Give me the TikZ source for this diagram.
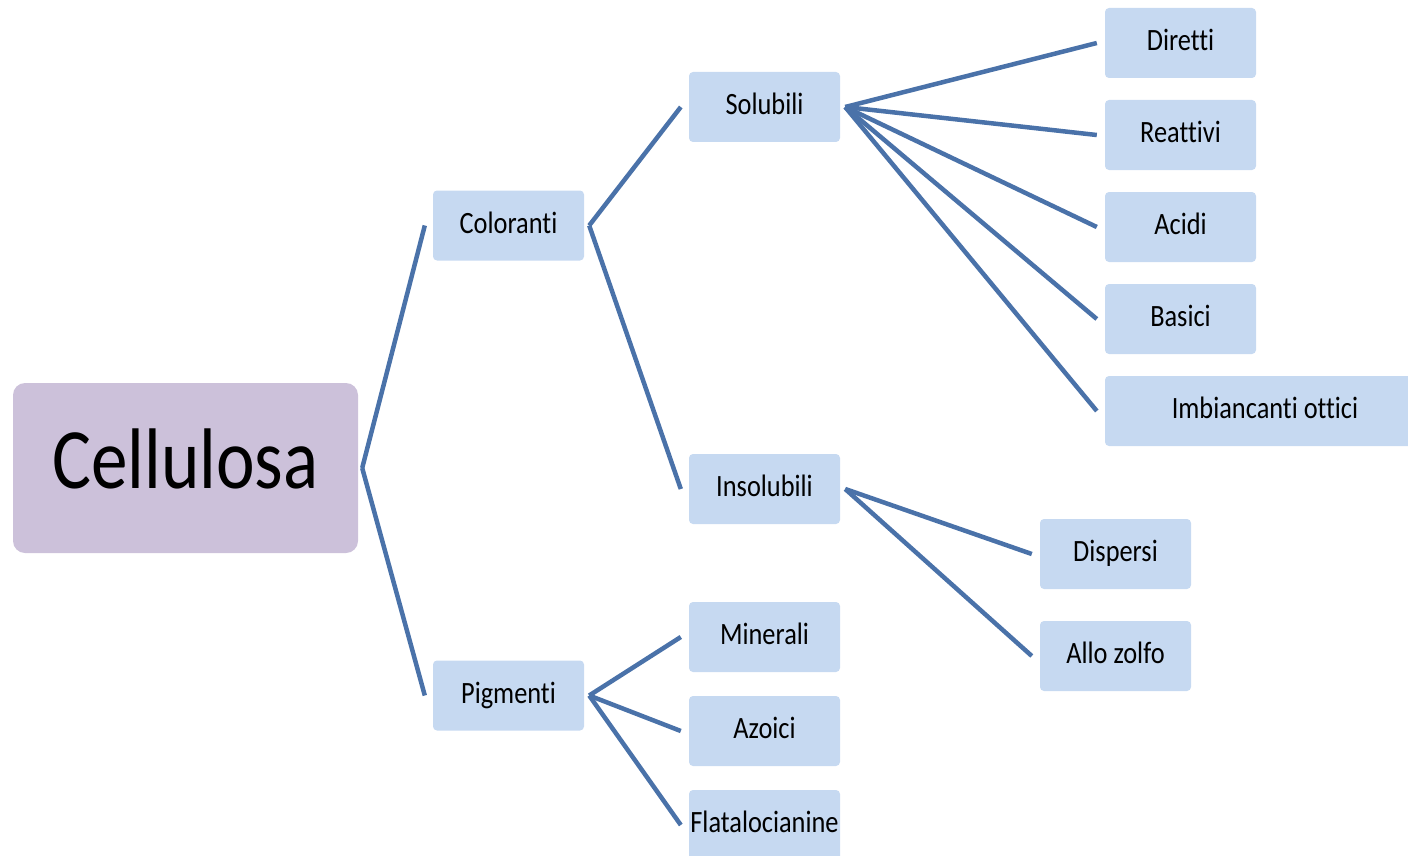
\documentclass[tikz,border=0pt]{standalone}
\usepackage{fontspec}
\setmainfont{Carlito}[FakeStretch=0.85,Ligatures=NoCommon]
\definecolor{boxblue}{HTML}{C6D9F1}
\definecolor{rootlav}{HTML}{CCC1DA}
\definecolor{linkblue}{HTML}{4A72A9}
\begin{document}
\begin{tikzpicture}[x=1pt,y=-1pt,
  leaf/.style={fill=boxblue,rounded corners=4pt,minimum width=151pt,minimum height=70pt,inner sep=0pt,text height=24pt,text depth=8.4pt,font=\fontsize{31}{36}\selectfont},
  root/.style={fill=rootlav,rounded corners=12pt,minimum width=345pt,minimum height=170pt,inner sep=0pt,text height=60pt,text depth=20pt,font=\fontsize{86}{96}\selectfont},
  link/.style={draw=linkblue,line width=4.5pt}]
\useasboundingbox (0,0) rectangle (1408,856);
\clip (0,0) rectangle (1408,856);
\node[root] (cell) at (185.5,468) {Cellulosa};
\node[leaf] (col) at (508.5,225.5) {Coloranti};
\node[leaf] (pig) at (508.5,695.5) {Pigmenti};
\node[leaf] (sol) at (764.5,107) {Solubili};
\node[leaf] (ins) at (764.5,489) {Insolubili};
\node[leaf] (min) at (764.5,637) {Minerali};
\node[leaf] (azo) at (764.5,731) {Azoici};
\node[leaf] (fla) at (764.5,825) {Flatalocianine};
\node[leaf] (dir) at (1180.5,43) {Diretti};
\node[leaf] (rea) at (1180.5,135) {Reattivi};
\node[leaf] (aci) at (1180.5,227) {Acidi};
\node[leaf] (bas) at (1180.5,319) {Basici};
\node[leaf,minimum width=320pt] (imb) at (1265,411) {Imbiancanti ottici};
\node[leaf] (dis) at (1115.5,554) {Dispersi};
\node[leaf] (all) at (1115.5,656) {Allo zolfo};
\foreach \p/\c in {cell/col,cell/pig}
  \draw[link] ([xshift=4pt]\p.east) -- ([xshift=-8pt]\c.west);
\foreach \p/\c in {col/sol,col/ins,pig/min,pig/azo,pig/fla,sol/dir,sol/rea,sol/aci,sol/bas,sol/imb,ins/dis,ins/all}
  \draw[link] ([xshift=5pt]\p.east) -- ([xshift=-8pt]\c.west);
\end{tikzpicture}
\end{document}
